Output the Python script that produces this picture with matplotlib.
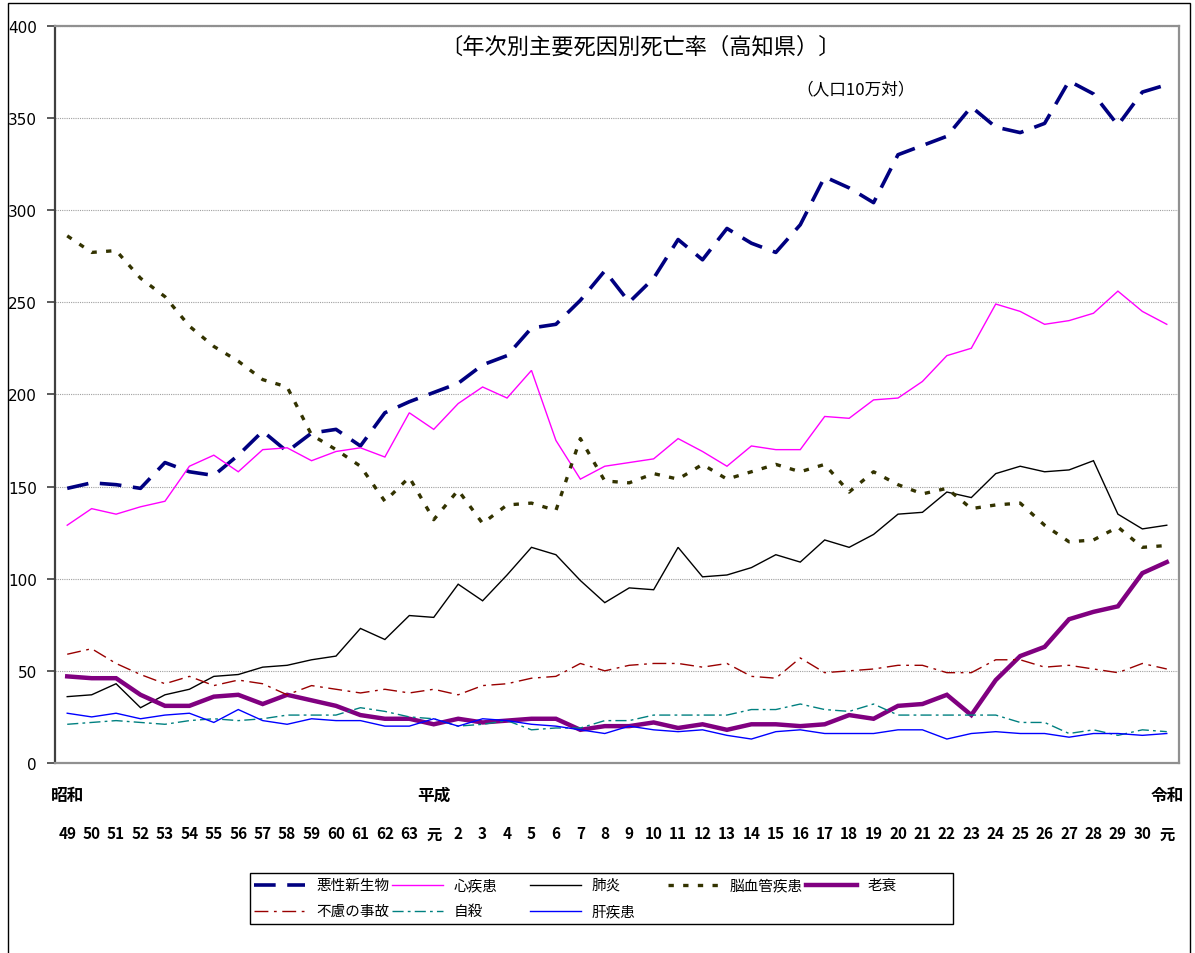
import matplotlib
matplotlib.use("Agg")
import matplotlib.pyplot as plt
from matplotlib.lines import Line2D
from matplotlib.patches import Rectangle

plt.rcParams['font.family'] = ['Noto Sans CJK JP', 'DejaVu Sans']

# ---- data (人口10万対) ----
years = ["49", "50", "51", "52", "53", "54", "55", "56", "57", "58", "59", "60", "61", "62", "63",
         "元", "2", "3", "4", "5", "6", "7", "8", "9", "10", "11", "12", "13", "14", "15", "16",
         "17", "18", "19", "20", "21", "22", "23", "24", "25", "26", "27", "28", "29", "30", "元"]
eras = ["昭和", "平成", "令和"]
era_pos = [0, 15, 45]

cancer = [149, 152, 151, 149, 163, 158, 156, 167, 180, 169, 179, 181, 172, 190, 196,
          201, 206, 216, 221, 236, 238, 251, 267, 250, 263, 284, 273, 290, 282, 277,
          292, 318, 312, 304, 330, 335, 340, 356, 345, 342, 347, 370, 363, 346, 364, 368]
heart = [129, 138, 135, 139, 142, 161, 167, 158, 170, 171, 164, 169, 171, 166, 190,
         181, 195, 204, 198, 213, 175, 154, 161, 163, 165, 176, 169, 161, 172, 170,
         170, 188, 187, 197, 198, 207, 221, 225, 249, 245, 238, 240, 244, 256, 245, 238]
pneumonia = [36, 37, 43, 30, 37, 40, 47, 48, 52, 53, 56, 58, 73, 67, 80,
             79, 97, 88, 102, 117, 113, 99, 87, 95, 94, 117, 101, 102, 106, 113,
             109, 121, 117, 124, 135, 136, 147, 144, 157, 161, 158, 159, 164, 135, 127, 129]
cerebro = [286, 277, 278, 263, 253, 237, 226, 218, 208, 204, 178, 170, 161, 142, 155,
           132, 148, 130, 140, 141, 137, 176, 153, 152, 157, 154, 162, 154, 158, 162,
           158, 162, 147, 158, 151, 146, 149, 138, 140, 141, 129, 120, 121, 128, 117, 118]
senility = [47, 46, 46, 37, 31, 31, 36, 37, 32, 37, 34, 31, 26, 24, 24,
            21, 24, 22, 23, 24, 24, 18, 20, 20, 22, 19, 21, 18, 21, 21,
            20, 21, 26, 24, 31, 32, 37, 26, 45, 58, 63, 78, 82, 85, 103, 109]
accident = [59, 62, 54, 48, 43, 47, 42, 45, 43, 37, 42, 40, 38, 40, 38,
            40, 37, 42, 43, 46, 47, 54, 50, 53, 54, 54, 52, 54, 47, 46,
            57, 49, 50, 51, 53, 53, 49, 49, 56, 56, 52, 53, 51, 49, 54, 51]
suicide = [21, 22, 23, 22, 21, 23, 24, 23, 24, 26, 26, 26, 30, 28, 25,
           24, 20, 21, 23, 18, 19, 19, 23, 23, 26, 26, 26, 26, 29, 29,
           32, 29, 28, 32, 26, 26, 26, 26, 26, 22, 22, 16, 18, 15, 18, 17]
liver = [27, 25, 27, 24, 26, 27, 22, 29, 23, 21, 24, 23, 23, 20, 20,
         24, 20, 24, 23, 21, 20, 18, 16, 20, 18, 17, 18, 15, 13, 17,
         18, 16, 16, 16, 18, 18, 13, 16, 17, 16, 16, 14, 16, 16, 15, 16]

series = [
    ("悪性新生物", cancer, dict(color="#000080", lw=2.6, ls=(0, (6, 3.2)))),
    ("心疾患", heart, dict(color="#FF00FF", lw=1.0, ls="-")),
    ("肺炎", pneumonia, dict(color="black", lw=1.0, ls="-")),
    ("脳血管疾患", cerebro, dict(color="#333300", lw=2.4, ls=(0, (1.6, 2.8)))),
    ("老衰", senility, dict(color="#800080", lw=3.2, ls="-")),
    ("不慮の事故", accident, dict(color="#990000", lw=1.0, ls=(0, (10, 4, 2, 4)))),
    ("自殺", suicide, dict(color="#008080", lw=1.0, ls=(0, (8, 3, 2, 3)))),
    ("肝疾患", liver, dict(color="#0000FF", lw=1.0, ls="-")),
]

W, H = 1195, 954
fig = plt.figure(figsize=(W / 100, H / 100), dpi=100)
fig.patch.set_facecolor("white")


def fx(px):
    return px / W


def fy(py):
    return 1 - py / H


ax = fig.add_axes([fx(55), fy(764), fx(1179) - fx(55), fy(26.7) - fy(764)])
x = list(range(len(years)))

for name, vals, st in series:
    ax.plot(x, vals, color=st["color"], lw=st["lw"], linestyle=st["ls"],
            solid_joinstyle="miter", zorder=3)

ax.set_xlim(-0.5, len(years) - 0.5)
ax.set_ylim(0, 400)
ax.set_yticks(range(0, 401, 50))
ax.yaxis.grid(True, color="#a0a0a0", linestyle=(0, (1, 1)), lw=0.8)
ax.set_axisbelow(True)
ax.tick_params(axis="y", direction="out", length=6, width=1.2, color="#404040",
               labelsize=11, pad=7)
for lab in ax.get_yticklabels():
    lab.set_family("DejaVu Sans")

ax.set_xticks(x)
ax.set_xticklabels(years, fontsize=11, fontweight="bold")
ax.tick_params(axis="x", length=0, pad=45)

for side in ["top", "right", "bottom"]:
    ax.spines[side].set_color("#909090")
    ax.spines[side].set_linewidth(1.6)
ax.spines["left"].set_color("#404040")
ax.spines["left"].set_linewidth(1.6)

for name, pos in zip(eras, era_pos):
    ax.annotate(name, xy=(pos, 0), xycoords=("data", "axes fraction"),
                xytext=(0, -23), textcoords="offset points",
                ha="center", va="center", fontsize=12, fontweight="bold")

fig.text(fx(640), fy(47), "〔年次別主要死因別死亡率（高知県）〕", ha="center", va="center",
         fontsize=16)
fig.text(fx(856), fy(90), "（人口10万対）", ha="center", va="center", fontsize=12)

# ---- legend (Excel style, fixed columns) ----
fig.add_artist(Rectangle((fx(250), fy(925)), fx(953) - fx(250), fy(874) - fy(925),
                         transform=fig.transFigure, fill=False, edgecolor="black", lw=1.0))
for i, (name, vals, st) in enumerate(series):
    row, col = divmod(i, 5)
    x0 = 254 + 138 * col
    yy = 886 + 26 * row
    fig.add_artist(Line2D([fx(x0), fx(x0 + 51)], [fy(yy), fy(yy)], transform=fig.transFigure,
                          color=st["color"], lw=st["lw"], linestyle=st["ls"]))
    fig.text(fx(x0 + 62), fy(yy), name, ha="left", va="center", fontsize=10.5)

# outer frame of the chart area
fig.add_artist(Rectangle((fx(8), fy(960)), fx(1190) - fx(8), fy(4) - fy(960),
                         transform=fig.transFigure, fill=False, edgecolor="black", lw=1.0))

plt.savefig("out.png", dpi=100)
